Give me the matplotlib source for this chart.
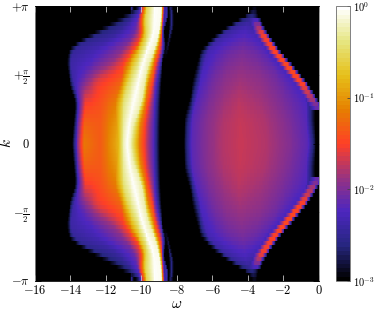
import numpy as np
import matplotlib
matplotlib.use('Agg')
import matplotlib.pyplot as plt
from matplotlib.cm import ScalarMappable
from matplotlib.colors import LogNorm

plt.rcParams['mathtext.fontset'] = 'cm'
plt.rcParams['font.family'] = 'serif'
plt.rcParams['font.serif'] = ['cmr10', 'DejaVu Serif']
plt.rcParams['axes.formatter.use_mathtext'] = True

# everything is read off the picture for k >= 0, the map is mirrored in k
# k is given as a fraction of pi, omega positions per row, log10 of the weight
band_k = [0.0, 0.15, 0.302, 0.447, 0.6, 0.702, 0.796, 0.898, 1.0]
band_w = [
    [-13.93, -13.6, -13.27, -12.33, -11.3, -11.05, -10.83, -10.6, -10.17, -9.89, -9.32, -8.98],
    [-13.85, -13.55, -13.25, -12.33, -11.4, -11.02, -10.72, -10.45, -10.05, -9.82, -9.3, -8.97],
    [-13.75, -13.5, -13.2, -12.3, -11.5, -11.0, -10.45, -10.0, -9.8, -9.6, -9.25, -8.95],
    [-14.1, -13.85, -13.3, -12.6, -11.2, -10.75, -10.2, -9.85, -9.6, -9.4, -9.15, -8.9],
    [-14.25, -14.0, -12.9, -11.6, -11.0, -10.5, -9.9, -9.55, -9.3, -9.15, -8.95, -8.8],
    [-14.1, -13.8, -12.5, -11.0, -10.35, -10.05, -9.6, -9.2, -9.05, -8.95, -8.75, -8.6],
    [-12.9, -12.4, -11.4, -10.4, -10.0, -9.8, -9.35, -9.05, -8.95, -8.88, -8.8, -8.72],
    [-11.4, -11.0, -10.7, -10.3, -10.05, -9.85, -9.3, -8.95, -8.85, -8.8, -8.72, -8.65],
    [-10.1, -10.05, -10.0, -9.95, -9.9, -9.7, -9.25, -8.9, -8.8, -8.75, -8.7, -8.65],
]
band_v = [
    [-3, -1.9, -1.15, -1.35, -0.8, -0.25, -0.02, -0.25, -1.1, -1.5, -2.25, -3],
    [-3, -2.0, -1.3, -1.35, -0.95, -0.3, -0.02, -0.25, -1.1, -1.5, -2.25, -3],
    [-3, -2.2, -1.55, -1.4, -1.15, -0.4, -0.02, -0.25, -1.1, -1.5, -2.25, -3],
    [-3, -2.4, -2.05, -1.6, -1.3, -0.5, -0.02, -0.25, -1.1, -1.5, -2.25, -3],
    [-3, -2.4, -2.25, -1.9, -1.55, -0.8, -0.02, -0.25, -1.1, -1.5, -2.25, -3],
    [-3, -2.5, -2.35, -2.0, -1.5, -0.7, -0.02, -0.2, -1.1, -1.5, -2.25, -3],
    [-3, -2.6, -2.45, -2.1, -1.55, -0.7, -0.02, -0.08, -1.0, -1.5, -2.3, -3],
    [-3, -2.7, -2.5, -2.2, -1.5, -0.6, -0.02, -0.05, -0.9, -1.5, -2.3, -3],
    [-3, -2.8, -2.6, -2.2, -1.5, -0.6, -0.02, -0.05, -0.9, -1.5, -2.3, -3],
]

dome_k = [0.0, 0.17, 0.316, 0.5, 0.68, 0.79, 0.862, 0.935, 0.97, 1.0]
dome_w = [
    [-7.65, -7.2, -6.4, -5.45, -4.4, -3.0, -1.6, -0.55, -0.1],
    [-7.6, -7.15, -6.35, -5.4, -4.4, -3.1, -1.85, -0.7, -0.22],
    [-7.31, -6.9, -6.1, -5.3, -4.5, -3.2, -2.0, -0.7, -0.18],
    [-7.03, -6.6, -5.9, -5.2, -4.4, -3.3, -2.4, -1.6, -1.15],
    [-6.69, -6.3, -5.6, -5.0, -4.3, -3.6, -3.1, -2.75, -2.35],
    [-5.8, -5.45, -5.05, -4.65, -4.2, -3.8, -3.5, -3.35, -2.95],
    [-5.05, -4.75, -4.55, -4.3, -4.1, -3.9, -3.75, -3.65, -3.3],
    [-4.0, -3.9, -3.85, -3.8, -3.75, -3.7, -3.65, -3.55, -3.4],
    [-3.75, -3.7, -3.67, -3.64, -3.62, -3.6, -3.57, -3.53, -3.48],
    [-3.75, -3.7, -3.67, -3.64, -3.62, -3.6, -3.57, -3.53, -3.48],
]
dome_v = [
    [-3, -2.2, -1.98, -1.78, -1.7, -1.78, -1.98, -2.2, -3],
    [-3, -2.2, -1.98, -1.79, -1.71, -1.79, -1.98, -2.2, -3],
    [-3, -2.22, -2.0, -1.85, -1.76, -1.85, -2.03, -2.25, -3],
    [-3, -2.28, -2.08, -1.95, -1.88, -1.95, -2.08, -2.3, -3],
    [-3, -2.35, -2.2, -2.1, -2.04, -2.1, -2.2, -2.38, -3],
    [-3, -2.45, -2.35, -2.28, -2.22, -2.28, -2.33, -2.42, -3],
    [-3, -2.52, -2.45, -2.4, -2.36, -2.4, -2.44, -2.48, -3],
    [-3, -2.8, -2.7, -2.65, -2.6, -2.62, -2.65, -2.7, -3],
    [-3, -2.95, -2.92, -2.9, -2.9, -2.9, -2.92, -2.95, -3],
    [-3, -3, -3, -3, -3, -3, -3, -3, -3],
]

# thin bright edge of the right lobe
edge_k = [0.244, 0.28, 0.316, 0.44, 0.556, 0.68, 0.804, 0.869, 0.913]
edge_w = [-0.03, -0.1, -0.31, -0.93, -1.67, -2.51, -3.19, -3.45, -3.6]
edge_v = [-2.2, -2.05, -1.85, -1.5, -1.45, -1.5, -1.55, -2.0, -2.4]

# faint streaks next to the main band near the zone edge
streak_k = [[0.82, 0.87, 0.93, 1.0], [0.62, 0.75, 0.85, 0.95, 1.0],
            [0.93, 1.0], [0.92, 1.0]]
streak_w = [[-8.8, -8.72, -8.62, -8.62], [-8.7, -8.45, -8.3, -8.3, -8.35],
            [-10.55, -10.55], [-10.05, -10.0]]
streak_v = [[-2.9, -2.4, -2.2, -2.3], [-3.0, -2.75, -2.6, -2.6, -2.7],
            [-3.0, -2.4], [-2.7, -2.3]]

xtick_vals = [-16, -14, -12, -10, -8, -6, -4, -2, 0]
ytick_labels = [r'$-\pi$', r'$-\frac{\pi}{2}$', r'$0$', r'$+\frac{\pi}{2}$', r'$+\pi$']
n_k = 69
n_w = 321


def row_table(kf, ks, table):
    # breakpoints at this k, averaged over a few neighbours to round the table off
    table = np.array(table, dtype=float)
    out = np.zeros(table.shape[1])
    for d in [-0.04, -0.02, 0.0, 0.02, 0.04]:
        kd = min(abs(kf + d), 1.0)
        out += np.array([np.interp(kd, ks, table[:, j]) for j in range(table.shape[1])])
    return out / 5.0


w = np.linspace(-16, 0, n_w)
k_edges = np.linspace(-np.pi, np.pi, n_k + 1)
k_mid = 0.5 * (k_edges[1:] + k_edges[:-1])
logA = np.full((n_k, n_w), -3.0)

for i, kk in enumerate(k_mid):
    kf = abs(kk) / np.pi
    row = np.interp(w, row_table(kf, band_k, band_w), row_table(kf, band_k, band_v),
                    left=-3, right=-3)
    row2 = np.interp(w, row_table(kf, dome_k, dome_w), row_table(kf, dome_k, dome_v),
                     left=-3, right=-3)
    row = np.maximum(row, row2)
    if edge_k[0] <= kf <= edge_k[-1]:
        w0 = np.interp(kf, edge_k, edge_w)
        v0 = np.interp(kf, edge_k, edge_v)
        row = np.maximum(row, np.interp(w, [w0 - 0.5, w0 - 0.12, w0 + 0.1, w0 + 0.32],
                                        [-2.6, v0, v0, -3], left=-3, right=-3))
    for sk, sw, sv in zip(streak_k, streak_w, streak_v):
        if sk[0] <= kf <= sk[-1]:
            w0 = np.interp(kf, sk, sw)
            v0 = np.interp(kf, sk, sv)
            row = np.maximum(row, np.interp(w, [w0 - 0.12, w0, w0 + 0.12], [-3, v0, -3],
                                            left=-3, right=-3))
    logA[i] = row

fig = plt.figure(figsize=(3.74, 3.09), dpi=100)
W, H = 374.0, 309.0
ax = fig.add_axes([35 / W, 1 - 281 / H, 283.5 / W, 275 / H])
cax = fig.add_axes([336 / W, 1 - 281 / H, 14 / W, 275 / H])

norm = LogNorm(vmin=1e-3, vmax=1.0)
ax.imshow(10.0 ** logA, origin='lower', aspect='auto', cmap='CMRmap', norm=norm,
          extent=[-16, 0, -np.pi, np.pi], interpolation='nearest')

ax.set_xlim(-16, 0)
ax.set_ylim(-np.pi, np.pi)
ax.set_xticks(xtick_vals)
ax.set_xticklabels(['$%d$' % v for v in xtick_vals], fontsize=9)
ax.set_yticks([-np.pi, -np.pi / 2, 0, np.pi / 2, np.pi])
ax.set_yticklabels(ytick_labels, fontsize=9)
ax.tick_params(axis='x', direction='in', length=4, width=0.6, color='#c4c4c4',
               top=True, pad=2)
ax.tick_params(axis='y', direction='in', length=4, width=0.6, color='black',
               right=True, pad=4)
ax.set_xlabel(r'$\omega$', fontsize=11)
ax.set_ylabel(r'$k$', fontsize=11, rotation=90)
ax.xaxis.set_label_coords(0.5, -0.058)
ax.yaxis.set_label_coords(-0.075, 0.5)
for name in ['left', 'right']:
    ax.spines[name].set_color('#8c8c8c')
    ax.spines[name].set_linewidth(0.6)
for name in ['top', 'bottom']:
    ax.spines[name].set_linewidth(0.6)

# the colour bar shows the coarse steps, the map itself looks smooth
cb = fig.colorbar(ScalarMappable(norm=norm, cmap=plt.get_cmap('CMRmap', 64)), cax=cax)
cb.set_ticks([1e-3, 1e-2, 1e-1, 1e0])
cb.set_ticklabels(['$10^{-3}$', '$10^{-2}$', '$10^{-1}$', '$10^{0}$'])
cb.ax.minorticks_off()
cb.ax.tick_params(labelsize=7.5, direction='in', length=2, width=0.6, pad=2, color='#444444')
cb.outline.set_linewidth(0.6)
cb.outline.set_edgecolor('#6c6c6c')

fig.savefig('out.png', dpi=100)
